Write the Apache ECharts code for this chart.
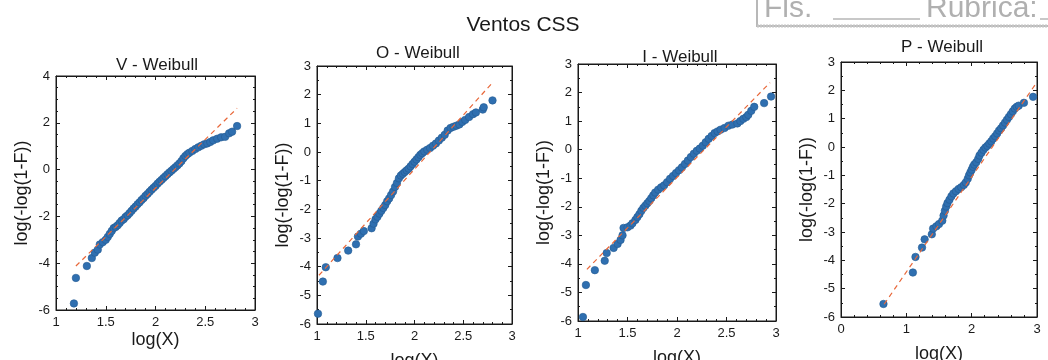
<!DOCTYPE html>
<html>
<head>
<meta charset="utf-8">
<script src="https://cdn.jsdelivr.net/npm/echarts@6/dist/echarts.min.js"></script>
<style>
  html, body { margin: 0; padding: 0; background: #fff; }
  #chart { width: 1048px; height: 360px; }
</style>
</head>
<body>
<div id="chart"></div>
<script>
// panel titles
const panelTitles = ['V - Weibull', 'O - Weibull', 'I - Weibull', 'P - Weibull']

// probability plot points [log(X), log(-log(1-F))]
const vPoints = [[1.18,-5.72],[1.20,-4.63],[1.31,-4.12],[1.36,-3.78],[1.39,-3.55],[1.42,-3.42],[1.44,-3.20],[1.47,-3.10],[1.50,-3.00],[1.52,-2.88],[1.54,-2.75],[1.56,-2.62],[1.58,-2.50],[1.60,-2.45],[1.62,-2.38],[1.64,-2.28],[1.66,-2.18],[1.68,-2.12],[1.70,-2.02],[1.72,-1.95],[1.74,-1.86],[1.76,-1.76],[1.78,-1.66],[1.80,-1.58],[1.82,-1.48],[1.84,-1.40],[1.86,-1.30],[1.88,-1.22],[1.90,-1.12],[1.92,-1.04],[1.94,-0.95],[1.96,-0.86],[1.98,-0.78],[2.00,-0.70],[2.02,-0.60],[2.04,-0.52],[2.06,-0.44],[2.08,-0.36],[2.10,-0.28],[2.12,-0.20],[2.14,-0.12],[2.16,-0.05],[2.18,0.03],[2.20,0.10],[2.22,0.18],[2.24,0.26],[2.26,0.36],[2.28,0.48],[2.30,0.58],[2.32,0.66],[2.34,0.72],[2.37,0.80],[2.40,0.88],[2.43,0.95],[2.46,1.02],[2.49,1.08],[2.52,1.12],[2.55,1.18],[2.58,1.25],[2.62,1.32],[2.66,1.38],[2.70,1.40],[2.74,1.55],[2.77,1.62],[2.82,1.86]]
const oPoints = [[1.01,-5.64],[1.06,-4.52],[1.09,-4.02],[1.21,-3.70],[1.32,-3.44],[1.40,-3.22],[1.42,-2.95],[1.45,-2.85],[1.48,-2.76],[1.56,-2.66],[1.58,-2.50],[1.60,-2.35],[1.62,-2.26],[1.64,-2.15],[1.66,-2.05],[1.68,-1.95],[1.70,-1.85],[1.72,-1.72],[1.74,-1.62],[1.76,-1.50],[1.78,-1.38],[1.80,-1.22],[1.82,-1.08],[1.84,-0.92],[1.86,-0.82],[1.88,-0.76],[1.90,-0.70],[1.92,-0.64],[1.94,-0.58],[1.96,-0.50],[1.98,-0.42],[2.00,-0.34],[2.02,-0.26],[2.04,-0.18],[2.06,-0.10],[2.08,-0.04],[2.10,0.02],[2.13,0.08],[2.16,0.14],[2.19,0.22],[2.22,0.30],[2.25,0.40],[2.28,0.50],[2.31,0.60],[2.34,0.75],[2.37,0.84],[2.40,0.88],[2.43,0.92],[2.46,0.96],[2.49,1.05],[2.52,1.12],[2.56,1.22],[2.60,1.32],[2.63,1.38],[2.70,1.48],[2.71,1.56],[2.80,1.80]]
const iPoints = [[1.05,-5.86],[1.08,-4.74],[1.17,-4.22],[1.27,-3.89],[1.29,-3.62],[1.36,-3.44],[1.40,-3.30],[1.43,-3.16],[1.45,-3.00],[1.46,-2.74],[1.50,-2.72],[1.53,-2.66],[1.55,-2.58],[1.58,-2.46],[1.60,-2.36],[1.62,-2.26],[1.64,-2.14],[1.66,-2.04],[1.68,-1.96],[1.70,-1.88],[1.72,-1.80],[1.74,-1.70],[1.76,-1.60],[1.78,-1.50],[1.81,-1.40],[1.84,-1.32],[1.87,-1.25],[1.90,-1.14],[1.93,-1.02],[1.96,-0.92],[1.99,-0.82],[2.02,-0.72],[2.05,-0.62],[2.08,-0.50],[2.11,-0.38],[2.14,-0.26],[2.17,-0.14],[2.20,-0.04],[2.23,0.04],[2.26,0.14],[2.29,0.26],[2.32,0.38],[2.35,0.48],[2.38,0.58],[2.41,0.64],[2.44,0.70],[2.48,0.76],[2.52,0.84],[2.56,0.88],[2.61,0.92],[2.64,1.00],[2.67,1.08],[2.70,1.14],[2.72,1.22],[2.75,1.36],[2.78,1.50],[2.88,1.63],[2.95,1.86]]
const pPoints = [[0.65,-5.54],[1.10,-4.43],[1.14,-3.88],[1.24,-3.55],[1.28,-3.26],[1.39,-3.08],[1.41,-2.88],[1.46,-2.80],[1.50,-2.72],[1.55,-2.60],[1.57,-2.42],[1.59,-2.25],[1.61,-2.10],[1.63,-1.98],[1.66,-1.86],[1.69,-1.74],[1.72,-1.64],[1.76,-1.56],[1.80,-1.48],[1.84,-1.42],[1.88,-1.34],[1.91,-1.25],[1.94,-1.12],[1.96,-1.00],[1.98,-0.90],[2.00,-0.80],[2.02,-0.70],[2.04,-0.62],[2.07,-0.54],[2.10,-0.42],[2.12,-0.30],[2.15,-0.20],[2.18,-0.10],[2.21,-0.02],[2.24,0.04],[2.27,0.12],[2.30,0.20],[2.33,0.30],[2.36,0.38],[2.39,0.48],[2.42,0.58],[2.45,0.66],[2.48,0.76],[2.51,0.86],[2.54,0.96],[2.57,1.06],[2.60,1.16],[2.63,1.26],[2.66,1.36],[2.69,1.42],[2.72,1.46],[2.80,1.56],[2.94,1.77]]

// fitted reference lines (end points)
const vFit = [[1.20,-4.12],[2.82,2.62]]
const oFit = [[1.02,-4.30],[2.80,2.42]]
const iFit = [[1.09,-4.19],[2.94,2.35]]
const pFit = [[0.66,-5.55],[2.99,2.26]]

// axis ranges: min, max, interval
const xRanges = [[1, 3, 0.5], [1, 3, 0.5], [1, 3, 0.5], [0, 3, 1]]
const yRanges = [[-6, 4, 2], [-6, 3, 1], [-6, 3, 1], [-6, 3, 1]]

const pointSets = [vPoints, oPoints, iPoints, pPoints]
const fitSets = [vFit, oFit, iFit, pFit]

// panel boxes in px: left, top, right, bottom
const boxes = [
    [56, 76, 255, 310],
    [317, 66, 512, 324],
    [578, 64, 776, 321],
    [841, 62, 1037, 317]
]
const titlePos = [[152, 60], [413, 48], [675, 52], [937, 42]]
const xNameGap = [21, 28, 28, 28]

const font = 'Liberation Sans, Arial, sans-serif'
const ink = '#1a1a1a'

const grids = [], xAxes = [], yAxes = [], series = [], titles = []
boxes.forEach((b, i) => {
    grids.push({
        left: b[0], top: b[1], width: b[2] - b[0], height: b[3] - b[1],
        outerBoundsMode: 'none',
        show: true, borderColor: ink, borderWidth: 1, backgroundColor: '#fff'
    })
    const xr = xRanges[i], yr = yRanges[i]
    const line = {show: true, onZero: false, lineStyle: {color: ink, width: 1}}
    const tick = {show: true, inside: true, length: 4, lineStyle: {color: ink}}
    const xMinor = {show: true, splitNumber: 5, length: 2, lineStyle: {color: ink}}
    const yMinor = {show: true, splitNumber: yr[2] === 2 ? 4 : 2, length: 2, lineStyle: {color: ink}}
    xAxes.push({
        type: 'value', gridIndex: i, position: 'bottom',
        min: xr[0], max: xr[1], interval: xr[2],
        name: 'log(X)', nameLocation: 'middle', nameGap: xNameGap[i],
        nameMoveOverlap: false,
        nameTextStyle: {fontFamily: font, fontSize: 18, color: ink},
        axisLabel: {fontFamily: font, fontSize: 13, color: ink, margin: 6},
        axisLine: line, axisTick: tick, minorTick: xMinor, splitLine: {show: false}
    })
    xAxes.push({
        type: 'value', gridIndex: i, position: 'top',
        min: xr[0], max: xr[1], interval: xr[2],
        axisLabel: {show: false},
        axisLine: line, axisTick: tick, minorTick: xMinor, splitLine: {show: false}
    })
    yAxes.push({
        type: 'value', gridIndex: i, position: 'left',
        min: yr[0], max: yr[1], interval: yr[2],
        name: 'log(-log(1-F))', nameLocation: 'middle', nameGap: 25,
        nameMoveOverlap: false,
        nameTextStyle: {fontFamily: font, fontSize: 18, color: ink},
        axisLabel: {fontFamily: font, fontSize: 13, color: ink, margin: 6},
        axisLine: line, axisTick: tick, minorTick: yMinor, splitLine: {show: false}
    })
    yAxes.push({
        type: 'value', gridIndex: i, position: 'right',
        min: yr[0], max: yr[1], interval: yr[2],
        axisLabel: {show: false},
        axisLine: line, axisTick: tick, minorTick: yMinor, splitLine: {show: false}
    })
    series.push({
        type: 'scatter', xAxisIndex: i * 2, yAxisIndex: i * 2,
        data: pointSets[i], symbolSize: 7.5,
        itemStyle: {color: '#2f6fb0', borderColor: '#245a92', borderWidth: 0.6, opacity: 1},
        z: 2
    })
    series.push({
        type: 'line', xAxisIndex: i * 2, yAxisIndex: i * 2,
        data: fitSets[i], showSymbol: false, symbol: 'none',
        itemStyle: {color: '#e8683a'},
        lineStyle: {color: '#e8683a', width: 1.2, type: [5, 4]},
        z: 3
    })
    titles.push({
        text: panelTitles[i], left: titlePos[i][0], top: titlePos[i][1],
        textAlign: 'center', textVerticalAlign: 'middle',
        textStyle: {fontFamily: font, fontSize: 17, fontWeight: 'normal', color: ink}
    })
})

const option = {
    backgroundColor: '#fff',
    animation: false,
    title: [
        {
            text: 'Ventos CSS', left: 518, top: 20, textAlign: 'center', textVerticalAlign: 'middle',
            textStyle: {fontFamily: font, fontSize: 21, fontWeight: 'normal', color: ink}
        },
        ...titles
    ],
    grid: grids,
    xAxis: xAxes,
    yAxis: yAxes,
    series: series,
    graphic: [
        // document stamp, top right
        {type: 'rect', shape: {x: 757, y: -4, width: 300, height: 30}, style: {fill: 'none', stroke: '#b8b8b8', lineWidth: 2}},
        {type: 'line', shape: {x1: 757, y1: 26, x2: 1048, y2: 26}, style: {stroke: '#c4c4c4', lineWidth: 3, lineDash: [2, 1]}},
        {type: 'text', style: {x: 764, y: 9, text: 'Fls.', font: '30px ' + font, fill: '#b0b0b0', textVerticalAlign: 'middle'}},
        {type: 'line', shape: {x1: 833, y1: 19, x2: 920, y2: 19}, style: {stroke: '#c8c8c8', lineWidth: 2}},
        {type: 'text', style: {x: 926, y: 9, text: 'Rubrica:', font: '30px ' + font, fill: '#b0b0b0', textVerticalAlign: 'middle'}},
        {type: 'line', shape: {x1: 1040, y1: 19, x2: 1048, y2: 19}, style: {stroke: '#c8c8c8', lineWidth: 2}}
    ]
}

const chart = echarts.init(document.getElementById('chart'), null, {renderer: 'canvas'})
chart.setOption(option)
</script>
</body>
</html>
